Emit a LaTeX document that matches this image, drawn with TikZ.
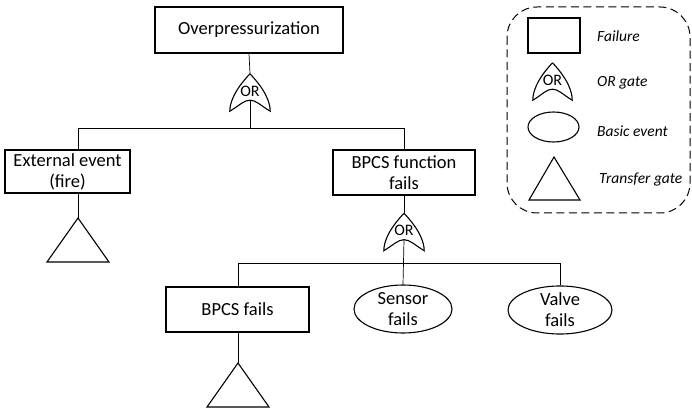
\documentclass[tikz,border=0pt]{standalone}
\usepackage{fontspec}
\setmainfont{Carlito}
\usetikzlibrary{shapes.geometric,calc}
\tikzset{
  box/.style={draw, line width=1.1pt, inner sep=0pt, align=center, font=\fontsize{18.5}{21}\selectfont},
  event/.style={draw, ellipse, line width=1.1pt, inner sep=0pt, align=center, font=\fontsize{18.5}{21}\selectfont},
  gate/.style={inner sep=0pt, minimum width=40pt, minimum height=37pt, font=\fontsize{16}{17}\selectfont},
  wire/.style={line width=0.7pt},
  shape line/.style={line width=1.1pt},
  legtext/.style={anchor=west, inner sep=0pt, font=\fontsize{15.5}{17}\selectfont\itshape},
}
\newcommand\orshape[1]{%
  \draw[shape line] (#1.north)
    .. controls ($(#1.north)!0.45!(#1.south west)+(-7pt,0)$) and ($(#1.south west)+(0,8pt)$) .. (#1.south west)
    .. controls ($(#1.south west)+(10pt,6pt)$) and ($(#1.south)+(-6pt,11pt)$) .. ($(#1.south)+(0,11pt)$)
    .. controls ($(#1.south)+(6pt,11pt)$) and ($(#1.south east)+(-10pt,6pt)$) .. (#1.south east)
    .. controls ($(#1.south east)+(0,8pt)$) and ($(#1.north)!0.45!(#1.south east)+(7pt,0)$) .. (#1.north);}
\begin{document}
\begin{tikzpicture}[x=1pt,y=-1pt]
\useasboundingbox (0,0) rectangle (692,411);
% main tree
\node[box, minimum width=188pt, minimum height=46pt] (top) at (249,30) {Overpressurization};
\node[gate] (g1) at (250,92.5) {\raisebox{3pt}{OR}};
\orshape{g1}
\node[box, minimum width=125pt, minimum height=43pt] (ext) at (67.5,171.5) {External event\\(fire)};
\node[box, minimum width=142pt, minimum height=45pt] (bf) at (404,172.5) {BPCS function\\fails};
\node[gate] (g2) at (404,232) {\raisebox{3pt}{OR}};
\orshape{g2}
\node[box, minimum width=143pt, minimum height=45pt] (bpcs) at (237.5,309.5) {BPCS fails};
\node[event, minimum width=98pt, minimum height=48pt] (sen) at (403,309) {Sensor\\fails};
\node[event, minimum width=104pt, minimum height=46pt] (val) at (560,310) {Valve\\fails};
% transfer triangles
\coordinate (t1) at (78,218);
\coordinate (t2) at (238,363);
\draw[shape line] (t1) -- ++(-31,44) -- ++(62,0) -- cycle;
\draw[shape line] (t2) -- ++(-31,44) -- ++(62,0) -- cycle;
% connection points
\coordinate (g1out) at ($(g1.south)+(0,11pt)$);
\coordinate (g2out) at ($(g2.south)+(0,11pt)$);
\coordinate (j1) at (250,128);
\coordinate (j1l) at (78,128);
\coordinate (j1r) at (404,128);
\coordinate (extin) at (78,150);
\coordinate (extout) at (78,193);
\coordinate (j2l) at (238,263);
\coordinate (j2r) at (560,263);
\coordinate (bpcsin) at (238,287);
\coordinate (bpcsout) at (238,332);
% connectors
\draw[wire] (top.south) -- (g1.north);
\draw[wire] (g1out) -- (j1);
\draw[wire] (extin) -- (j1l) -- (j1r) -- (bf.north);
\draw[wire] (extout) -- (t1);
\draw[wire] (bf.south) -- (g2.north);
\draw[wire] (g2out) -- (sen.north);
\draw[wire] (bpcsin) -- (j2l) -- (j2r) -- (val.north);
\draw[wire] (bpcsout) -- (t2);
% legend
\draw[line width=1pt, dash pattern=on 8pt off 4.5pt, rounded corners=30pt] (507,7) rectangle (690,213);
\node[draw, shape line, minimum width=52pt, minimum height=35pt, inner sep=0pt] (lf) at (554,35.5) {};
\node[legtext] (lft) at (597,36) {Failure};
\node[gate, minimum width=39pt] (lg) at (552.5,81.5) {\raisebox{3pt}{OR}};
\orshape{lg}
\node[legtext] (lgt) at (597,83) {OR gate};
\node[draw, ellipse, shape line, minimum width=51pt, minimum height=30pt, inner sep=0pt] (le) at (553.5,127) {};
\node[legtext] (let) at (597,131) {Basic event};
\coordinate (lt) at (554,157);
\draw[shape line] (lt) -- ++(-25,43) -- ++(51,0) -- cycle;
\node[legtext] (ltt) at (599,180) {Transfer gate};
\end{tikzpicture}
\end{document}
